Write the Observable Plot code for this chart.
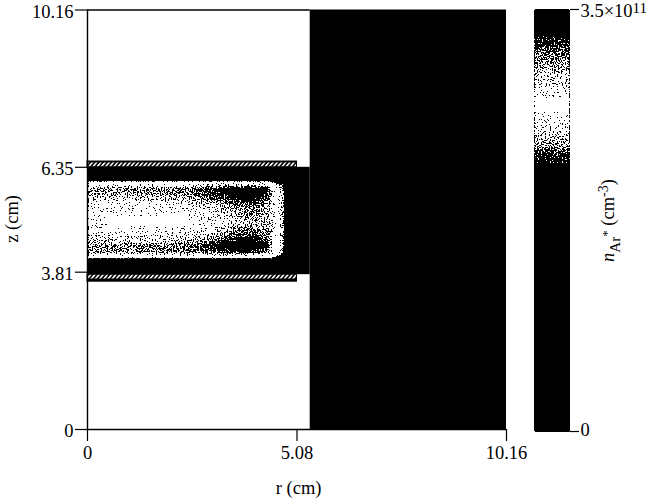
<!DOCTYPE html>
<html><head><meta charset="utf-8">
<script src="https://cdn.jsdelivr.net/npm/d3@7"></script>
<script src="https://cdn.jsdelivr.net/npm/@observablehq/plot@0.6"></script>
<style>
html,body{margin:0;padding:0;background:#fff}
#c{position:relative;width:652px;height:499px;overflow:hidden}
#c svg{position:absolute;left:0;top:0;background:transparent}
</style></head><body><div id="c"></div>
<script>
const axisMax = 10.16;
const rTicks = [0, 5.08, 10.16];
const zTicks = [0, 3.81, 6.35, 10.16];
const rCols = [0.02, 0.8, 1.6, 2.4, 3.0, 3.5, 3.9, 4.35, 4.55, 4.76];
const zRows = [6.01, 5.94, 5.84, 5.67, 5.42, 5.01, 4.65, 4.46, 4.29, 4.21, 4.15];
const density = [
  [2.6, 2.6, 2.6, 2.6, 2.6, 2.6, 2.6, 2.5, 2.2, 0],
  [2.74, 2.74, 2.74, 2.74, 2.78, 2.85, 2.85, 2.78, 2.6, 2.2],
  [3.08, 3.06, 3.08, 3.12, 3.24, 3.34, 3.4, 3.28, 2.74, 2.32],
  [3.0, 2.98, 3.0, 3.08, 3.2, 3.3, 3.38, 3.22, 2.78, 2.36],
  [2.82, 2.8, 2.8, 2.84, 2.96, 3.08, 3.16, 3.02, 2.8, 2.36],
  [2.76, 2.72, 2.72, 2.72, 2.78, 2.92, 2.98, 2.98, 2.9, 2.32],
  [2.92, 2.88, 2.86, 2.92, 3.02, 3.18, 3.28, 3.14, 2.8, 2.36],
  [3.08, 3.08, 3.08, 3.12, 3.26, 3.36, 3.4, 3.3, 2.78, 2.36],
  [3.06, 3.06, 3.06, 3.1, 3.16, 3.22, 3.26, 3.1, 2.72, 2.3],
  [2.74, 2.74, 2.74, 2.74, 2.78, 2.8, 2.8, 2.74, 2.6, 2.2],
  [2.6, 2.6, 2.6, 2.6, 2.6, 2.6, 2.6, 2.5, 2.2, 0]
];
const blackRegions = [
  {r1: 5.4, r2: 10.16, z1: 0, z2: 10.16},
  {r1: 0, r2: 5.4, z1: 3.75, z2: 6.35}
];
const hatchRegions = [
  {r1: 0, r2: 5.08, z1: 6.35, z2: 6.49},
  {r1: 0, r2: 5.08, z1: 3.58, z2: 3.75}
];
const barLevels = [0, 2.2, 2.29, 2.35, 2.5, 2.7, 2.87, 3.03, 3.18, 3.3, 3.5];
const barGreys = ["#000", "#000", "#2a2a2a", "#808080", "#d0d0d0", "#fff", "#dcdcdc", "#999", "#555", "#000", "#000"];

const serif = "'Liberation Serif', serif";
const ink = "#000";
const colorScale = {type: "linear", domain: barLevels, range: barGreys, interpolate: "rgb"};
const field = zRows.flatMap((z, i) => rCols.map((r, j) => ({r, z, v: density[i][j]})));
const barField = barLevels.flatMap(v => [0, 0.5, 1].map(x => ({x, v})));

const defsMark = () => {
  const ns = "http://www.w3.org/2000/svg";
  const defs = document.createElementNS(ns, "defs");
  defs.innerHTML = `<pattern id="hatch" width="4.2" height="7" patternUnits="userSpaceOnUse" patternTransform="skewX(-40)"><rect width="4.2" height="7" fill="#000"/><rect x="0.8" y="1.5" width="2.1" height="4" fill="#fff"/></pattern>
  <filter id="dither" x="0" y="0" width="1" height="1" color-interpolation-filters="sRGB">
    <feTurbulence type="fractalNoise" baseFrequency="0.75" numOctaves="1" seed="4" result="noise"/>
    <feColorMatrix in="noise" type="matrix" values="3 0 0 0 -1 3 0 0 0 -1 3 0 0 0 -1 0 0 0 0 1" result="grey"/>
    <feComposite in="SourceGraphic" in2="grey" operator="arithmetic" k1="0" k2="1.1" k3="1" k4="-0.55"/>
    <feComponentTransfer><feFuncR type="discrete" tableValues="0 1"/><feFuncG type="discrete" tableValues="0 1"/><feFuncB type="discrete" tableValues="0 1"/></feComponentTransfer>
    <feGaussianBlur stdDeviation="0.5"/>
  </filter>`;
  return defs;
};

const main = Plot.plot({
  width: 652, height: 499,
  marginLeft: 87, marginRight: 146, marginTop: 9.5, marginBottom: 70,
  style: {fontFamily: serif, fontSize: "18.5px", color: ink, background: "transparent"},
  x: {domain: [0, axisMax]},
  y: {domain: [0, axisMax]},
  color: colorScale,
  marks: [
    defsMark,
    Plot.rect(blackRegions, {x1: "r1", x2: "r2", y1: "z1", y2: "z2", fill: "#000"}),
    Plot.raster(field, {x: "r", y: "z", fill: "v", x1: rCols[0], x2: rCols[rCols.length - 1], y1: zRows[zRows.length - 1], y2: zRows[0], interpolate: "barycentric", pixelSize: 1}),
    Plot.rect(hatchRegions, {x1: "r1", x2: "r2", y1: "z1", y2: "z2", fill: "url(#hatch)", stroke: "#000", strokeWidth: 1}),
    Plot.ruleX([0], {stroke: ink, strokeWidth: 1.4}),
    Plot.ruleY([0, axisMax], {x1: 0, x2: d => d ? 5.4 : axisMax, stroke: ink, strokeWidth: 1.4}),
    Plot.axisX(rTicks, {tickSize: 12, tickPadding: 4, tickFormat: d => d, label: null, strokeWidth: 1.2, stroke: ink, fontSize: 18.5}),
    Plot.axisY(zTicks, {tickSize: 12, tickFormat: () => "", label: null, strokeWidth: 1.2, stroke: ink}),
    Plot.axisY(zTicks, {tickSize: 0, tickPadding: 14, dy: 2, tickFormat: d => d, label: null, fontSize: 18.5}),
    Plot.text(["r (cm)"], {x: 5.12, y: 0, dy: 59, fontSize: 18.5}),
    Plot.text(["z (cm)"], {x: 0, y: 5.1, dx: -75, rotate: -90, fontSize: 18.5})
  ]
});

const bar = Plot.plot({
  width: 652, height: 499,
  marginLeft: 534, marginRight: 83, marginTop: 9, marginBottom: 68,
  style: {fontFamily: serif, fontSize: "18.5px", color: ink, background: "transparent"},
  x: {domain: [0, 1], axis: null},
  y: {domain: [0, 3.5], axis: null},
  color: colorScale,
  marks: [
    Plot.raster(barField, {x: "x", y: "v", fill: "v", x1: 0, x2: 1, y1: 0, y2: 3.5, interpolate: "barycentric", pixelSize: 1}),
    Plot.axisY([3.5], {anchor: "right", tickSize: 9, tickFormat: () => "", label: null, strokeWidth: 1.2, stroke: ink}),
    Plot.axisY([0], {anchor: "right", tickSize: 9, tickFormat: () => "", label: null, strokeWidth: 1.2, stroke: ink}),
    Plot.axisY([3.5], {anchor: "right", tickSize: 0, tickPadding: 11, dy: 2, tickFormat: () => "3.5×10¹¹", label: null, fontSize: 18.5}),
    Plot.axisY([0], {anchor: "right", tickSize: 0, tickPadding: 11, dy: -1, tickFormat: () => "0", label: null, fontSize: 18.5}),
    Plot.text(["nAr* (cm-3)"], {x: 1, y: 1.75, dx: 39, rotate: -90, fontSize: 18.5})
  ]
});

document.getElementById("c").append(main, bar);

d3.selectAll("#c image").attr("filter", "url(#dither)");

d3.select(bar).selectAll("text").each(function () {
  const t = d3.select(this);
  const host = t.select("tspan").empty() ? t : t.select("tspan");
  if (t.text() === "3.5×10¹¹") {
    host.text("3.5×10").append("tspan").attr("dy", -4).attr("font-size", 15).text("11");
  }
  if (t.text() === "nAr* (cm-3)") {
    host.text(null);
    host.append("tspan").attr("font-style", "italic").text("n");
    host.append("tspan").attr("dy", 6).attr("font-size", 15).text("Ar");
    host.append("tspan").attr("dy", -9).attr("font-size", 13).text("*");
    host.append("tspan").attr("dy", 3).text(" (cm");
    host.append("tspan").attr("dy", -6).attr("font-size", 14).text("-3");
    host.append("tspan").attr("dy", 6).text(")");
  }
});
</script></body></html>
